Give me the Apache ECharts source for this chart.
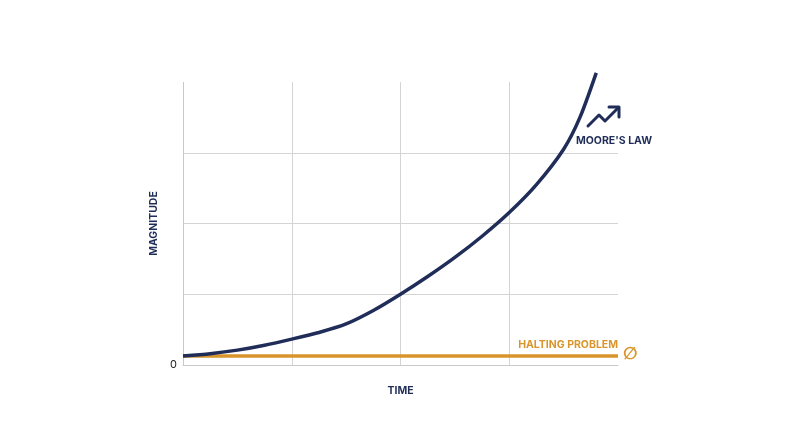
<!DOCTYPE html>
<html><head><meta charset="utf-8">
<script src="https://cdn.jsdelivr.net/npm/echarts@6/dist/echarts.min.js"></script>
<style>html,body{margin:0;background:#fff}#c{width:800px;height:447px}</style>
</head><body><div id="c"></div>
<script>
const xTicks = [0, 1, 2, 3, 4];
const mooreX = [0, 0.25, 0.5, 0.75, 1, 1.25, 1.5, 1.75, 2, 2.25, 2.5, 2.75, 3, 3.25, 3.5, 3.65, 3.8];
const mooreY = [0.127, 0.16, 0.21, 0.28, 0.366, 0.46, 0.58, 0.77, 1.0, 1.25, 1.52, 1.82, 2.155, 2.55, 3.05, 3.5, 4.13];
const haltX = [0, 4];
const haltY = [0.127, 0.127];
const navy = '#1f2d58', orange = '#d9952b', font = 'Inter';
const chart = echarts.init(document.getElementById('c'));
chart.setOption({
  animation: false,
  grid: {left: 183, right: 182, top: 82, bottom: 82},
  xAxis: {type: 'value', min: 0, max: 4, interval: 1,
    axisLine: {show: true, lineStyle: {color: '#c8c8c8'}}, axisTick: {show: false}, axisLabel: {show: false},
    splitLine: {show: true, lineStyle: {color: ['#c8c8c8', '#d4d4d4', '#d4d4d4', '#d4d4d4', 'transparent']}},
    name: 'TIME', nameLocation: 'middle', nameGap: 20,
    nameTextStyle: {color: navy, fontFamily: font, fontWeight: 'bold', fontSize: 10.5}},
  yAxis: {type: 'value', min: 0, max: 4, interval: 1,
    axisLine: {show: false}, axisTick: {show: false},
    axisLabel: {formatter: v => v === 0 ? '0' : '', color: '#222', fontFamily: font, fontSize: 11, margin: 6},
    splitLine: {show: true, lineStyle: {color: ['transparent', '#d4d4d4', '#d4d4d4', '#d4d4d4', 'transparent']}},
    name: 'MAGNITUDE', nameLocation: 'middle', nameGap: 20,
    nameTextStyle: {color: navy, fontFamily: font, fontWeight: 'bold', fontSize: 10.5}},
  series: [
    {type: 'line', data: haltX.map((x, i) => [x, haltY[i]]), symbol: 'none', clip: false,
      lineStyle: {color: orange, width: 3.5}},
    {type: 'line', data: mooreX.map((x, i) => [x, mooreY[i]]), symbol: 'none', smooth: 0.25, clip: false,
      lineStyle: {color: navy, width: 3.5}}
  ],
  graphic: [
    {type: 'text', left: 576, top: 135, style: {text: "MOORE'S LAW", fill: navy, font: 'bold 10.5px Inter'}},
    {type: 'polyline', shape: {points: [[588, 126], [599, 115], [605, 121], [618, 108]]},
      style: {stroke: navy, lineWidth: 3, fill: null, lineCap: 'round', lineJoin: 'round'}},
    {type: 'polyline', shape: {points: [[609, 107], [619, 107], [619, 117]]},
      style: {stroke: navy, lineWidth: 3, fill: null, lineCap: 'round', lineJoin: 'round'}},
    {type: 'text', right: 182, top: 339, style: {text: 'HALTING PROBLEM', fill: orange, font: 'bold 10.5px Inter'}},
    {type: 'text', left: 623, top: 346, style: {text: '∅', fill: orange, font: 'bold 17px "DejaVu Sans"'}}
  ]
});
</script></body></html>
